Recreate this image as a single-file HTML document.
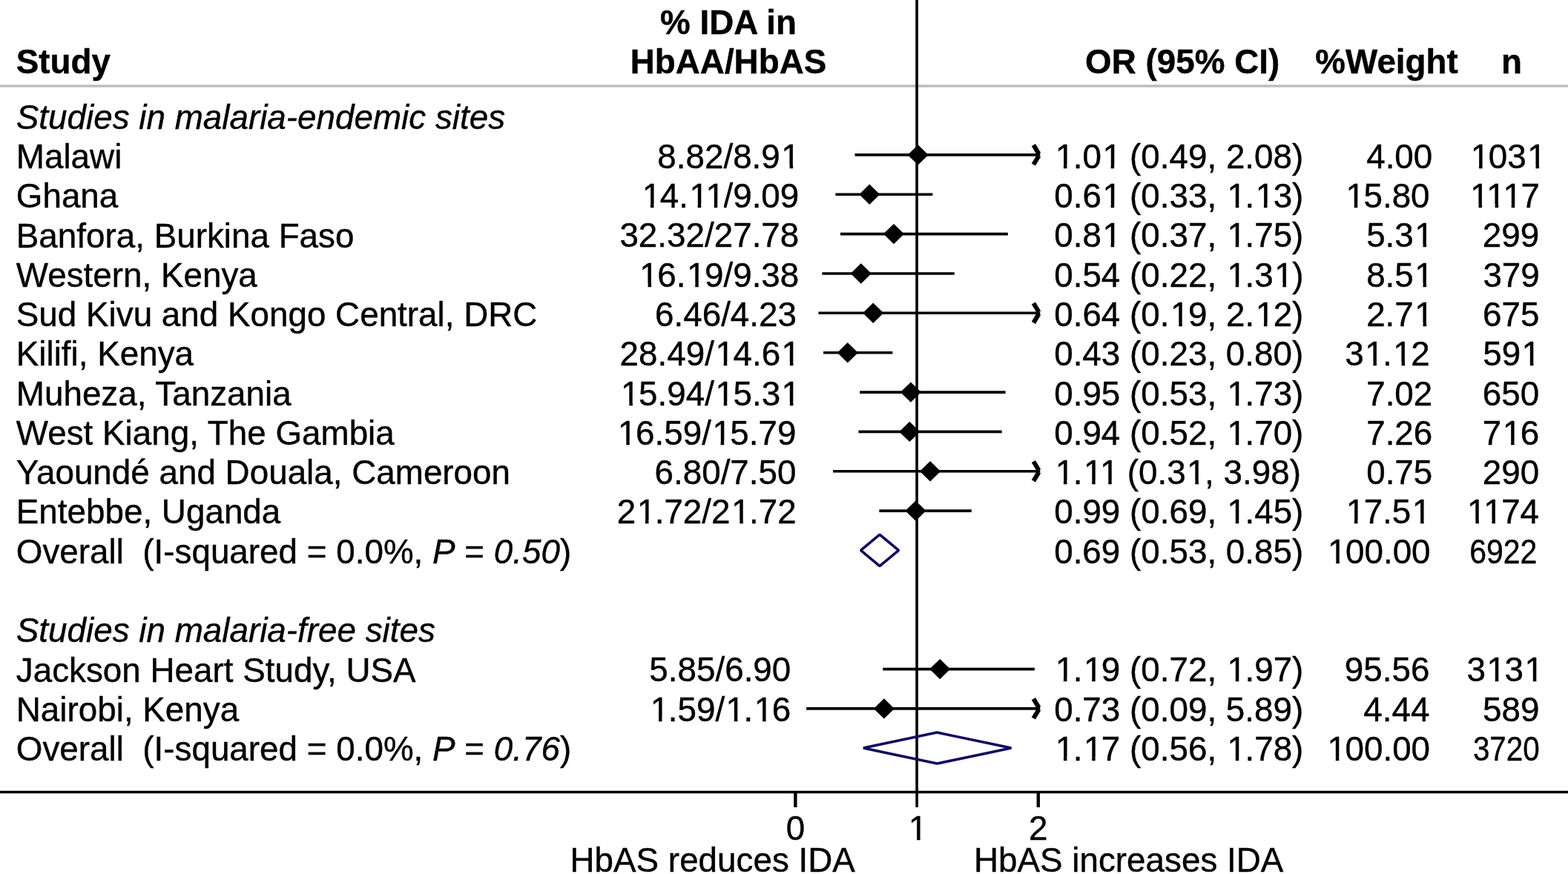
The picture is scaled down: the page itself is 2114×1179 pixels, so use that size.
<!DOCTYPE html>
<html><head><meta charset="utf-8"><title>Forest plot</title>
<style>
html,body{margin:0;padding:0;background:#fff;}
body{width:2114px;height:1179px;overflow:hidden;}
svg{display:block;}
text{font-family:"Liberation Sans",Arial,sans-serif;font-size:45.8px;fill:#000;stroke:#000;stroke-width:0.4px;}
text.b{font-weight:bold;}
text.i,tspan.it{font-style:italic;}
</style></head><body>
<svg width="2114" height="1179" viewBox="0 0 2114 1179">
<rect width="2114" height="1179" fill="#fff"/>
<line x1="0" y1="116" x2="2114" y2="116" stroke="#bdbdbd" stroke-width="3.3"/>
<line x1="1236.1" y1="0" x2="1236.1" y2="1089" stroke="#000" stroke-width="3.6"/>
<line x1="1152.6" y1="208.9" x2="1402.3" y2="208.9" stroke="#000" stroke-width="3.6"/>
<path d="M1393.4 195.6 L1400.6 207.6 M1400.6 210.0 L1393.4 222.0" stroke="#000" stroke-width="6" fill="none"/>
<path d="M1223.7 208.9 L1237.7 195.2 L1251.7 208.9 L1237.7 222.6 Z" fill="#000"/>
<line x1="1126.4" y1="262.3" x2="1257.4" y2="262.3" stroke="#000" stroke-width="3.6"/>
<path d="M1158.3 262.3 L1172.3 248.6 L1186.3 262.3 L1172.3 276.0 Z" fill="#000"/>
<line x1="1133.0" y1="315.6" x2="1358.9" y2="315.6" stroke="#000" stroke-width="3.6"/>
<path d="M1191.0 315.6 L1205.0 301.9 L1219.0 315.6 L1205.0 329.3 Z" fill="#000"/>
<line x1="1108.4" y1="369.0" x2="1286.8" y2="369.0" stroke="#000" stroke-width="3.6"/>
<path d="M1146.8 369.0 L1160.8 355.3 L1174.8 369.0 L1160.8 382.7 Z" fill="#000"/>
<line x1="1103.5" y1="422.3" x2="1402.3" y2="422.3" stroke="#000" stroke-width="3.6"/>
<path d="M1393.4 409.0 L1400.6 421.0 M1400.6 423.4 L1393.4 435.4" stroke="#000" stroke-width="6" fill="none"/>
<path d="M1163.2 422.3 L1177.2 408.6 L1191.2 422.3 L1177.2 436.0 Z" fill="#000"/>
<line x1="1110.1" y1="475.7" x2="1203.4" y2="475.7" stroke="#000" stroke-width="3.6"/>
<path d="M1128.8 475.7 L1142.8 462.0 L1156.8 475.7 L1142.8 489.4 Z" fill="#000"/>
<line x1="1159.2" y1="529.1" x2="1355.6" y2="529.1" stroke="#000" stroke-width="3.6"/>
<path d="M1213.9 529.1 L1227.9 515.4 L1241.9 529.1 L1227.9 542.8 Z" fill="#000"/>
<line x1="1157.5" y1="582.4" x2="1350.7" y2="582.4" stroke="#000" stroke-width="3.6"/>
<path d="M1212.3 582.4 L1226.3 568.7 L1240.3 582.4 L1226.3 596.1 Z" fill="#000"/>
<line x1="1123.1" y1="635.8" x2="1402.3" y2="635.8" stroke="#000" stroke-width="3.6"/>
<path d="M1393.4 622.5 L1400.6 634.5 M1400.6 636.9 L1393.4 648.9" stroke="#000" stroke-width="6" fill="none"/>
<path d="M1240.1 635.8 L1254.1 622.1 L1268.1 635.8 L1254.1 649.5 Z" fill="#000"/>
<line x1="1185.4" y1="689.1" x2="1309.8" y2="689.1" stroke="#000" stroke-width="3.6"/>
<path d="M1220.5 689.1 L1234.5 675.4 L1248.5 689.1 L1234.5 702.8 Z" fill="#000"/>
<line x1="1190.3" y1="902.6" x2="1394.9" y2="902.6" stroke="#000" stroke-width="3.6"/>
<path d="M1253.2 902.6 L1267.2 888.9 L1281.2 902.6 L1267.2 916.3 Z" fill="#000"/>
<line x1="1087.1" y1="955.9" x2="1402.3" y2="955.9" stroke="#000" stroke-width="3.6"/>
<path d="M1393.4 942.6 L1400.6 954.6 M1400.6 957.0 L1393.4 969.0" stroke="#000" stroke-width="6" fill="none"/>
<path d="M1177.9 955.9 L1191.9 942.2 L1205.9 955.9 L1191.9 969.6 Z" fill="#000"/>
<path d="M1160.5 742.40 L1186.0 721.20 L1211.6 742.40 L1186.0 763.60 Z" fill="none" stroke="#100a5e" stroke-width="3.6" stroke-linejoin="bevel"/>
<path d="M1164.0 1009.10 L1263.4 988.10 L1363.4 1009.10 L1263.4 1030.10 Z" fill="none" stroke="#100a5e" stroke-width="3.6" stroke-linejoin="bevel"/>
<line x1="0" y1="1068.5" x2="2114" y2="1068.5" stroke="#000" stroke-width="3.6"/>
<line x1="1072.4" y1="1068.5" x2="1072.4" y2="1089" stroke="#000" stroke-width="4.4"/>
<line x1="1399.8" y1="1068.5" x2="1399.8" y2="1089" stroke="#000" stroke-width="4.4"/>
<text x="21.8" y="99.2" class="b">Study</text>
<text x="982" y="46.2" class="b" text-anchor="middle">% IDA in</text>
<text x="982" y="98.9" class="b" text-anchor="middle">HbAA/HbAS</text>
<text x="1725.2" y="99" class="b" text-anchor="end">OR (95% CI)</text>
<text x="1965.8" y="99" class="b" text-anchor="end">%Weight</text>
<text x="2052.1" y="99" class="b" text-anchor="end">n</text>
<text x="21.8" y="173.6" class="i">Studies in malaria-endemic sites</text>
<text x="21.8" y="866.3" class="i">Studies in malaria-free sites</text>
<text x="21.8" y="226.9">Malawi</text>
<text x="1078.80" y="226.9" text-anchor="end" transform="matrix(1 0 0 1.02 0 -4.54)" dx="0 0 0 0 0 0 0 0 1.5">8.82/8.91</text>
<text x="1421.2" y="226.9" transform="matrix(1 0 0 1.02 0 -4.54)" dx="1.5 -1.5 0 1.5 -1.5">1.01 (0.49, 2.08)</text>
<text x="1931.30" y="226.9" text-anchor="end" transform="matrix(1 0 0 1.02 0 -4.54)">4.00</text>
<text x="2083.20" y="226.9" text-anchor="end" transform="matrix(1 0 0 1.02 0 -4.54)" dx="1.5 -1.5 0 1.5">1031</text>
<text x="21.8" y="280.2">Ghana</text>
<text x="1075.80" y="280.2" text-anchor="end" transform="matrix(1 0 0 1.02 0 -5.60)" dx="1.5 -1.5 0 1.5 0 -1.5">14.11/9.09</text>
<text x="1421.2" y="280.2" transform="matrix(1 0 0 1.02 0 -5.60)" dx="0 0 0 1.5 -1.5 0 0 0 0 0 0 0 1.5 -1.5 1.5 -1.5">0.61 (0.33, 1.13)</text>
<text x="1926.10" y="280.2" text-anchor="end" transform="matrix(1 0 0 1.02 0 -5.60)" dx="1.5 -1.5">15.80</text>
<text x="2074.40" y="280.2" text-anchor="end" transform="matrix(1 0 0 1.02 0 -5.60)" dx="1.5 0 0 -1.5">1117</text>
<text x="21.8" y="333.5">Banfora, Burkina Faso</text>
<text x="1077.30" y="333.5" text-anchor="end" transform="matrix(1 0 0 1.02 0 -6.67)">32.32/27.78</text>
<text x="1421.2" y="333.5" transform="matrix(1 0 0 1.02 0 -6.67)" dx="0 0 0 1.5 -1.5 0 0 0 0 0 0 0 1.5 -1.5">0.81 (0.37, 1.75)</text>
<text x="1932.80" y="333.5" text-anchor="end" transform="matrix(1 0 0 1.02 0 -6.67)" dx="0 0 0 1.5">5.31</text>
<text x="2075.10" y="333.5" text-anchor="end" transform="matrix(1 0 0 1.02 0 -6.67)">299</text>
<text x="21.8" y="386.7">Western, Kenya</text>
<text x="1075.80" y="386.7" text-anchor="end" transform="matrix(1 0 0 1.02 0 -7.73)" dx="1.5 -1.5 0 1.5 -1.5">16.19/9.38</text>
<text x="1421.2" y="386.7" transform="matrix(1 0 0 1.02 0 -7.73)" dx="0 0 0 0 0 0 0 0 0 0 0 0 1.5 -1.5 0 1.5 -1.5">0.54 (0.22, 1.31)</text>
<text x="1932.80" y="386.7" text-anchor="end" transform="matrix(1 0 0 1.02 0 -7.73)" dx="0 0 0 1.5">8.51</text>
<text x="2075.80" y="386.7" text-anchor="end" transform="matrix(1 0 0 1.02 0 -7.73)">379</text>
<text x="21.8" y="440.0">Sud Kivu and Kongo Central, DRC</text>
<text x="1074.00" y="440.0" text-anchor="end" transform="matrix(1 0 0 1.02 0 -8.80)">6.46/4.23</text>
<text x="1421.2" y="440.0" transform="matrix(1 0 0 1.02 0 -8.80)" dx="0 0 0 0 0 0 0 0 1.5 -1.5 0 0 0 0 1.5 -1.5">0.64 (0.19, 2.12)</text>
<text x="1932.80" y="440.0" text-anchor="end" transform="matrix(1 0 0 1.02 0 -8.80)" dx="0 0 0 1.5">2.71</text>
<text x="2075.40" y="440.0" text-anchor="end" transform="matrix(1 0 0 1.02 0 -8.80)">675</text>
<text x="21.8" y="493.3">Kilifi, Kenya</text>
<text x="1079.10" y="493.3" text-anchor="end" transform="matrix(1 0 0 1.02 0 -9.87)" dx="0 0 0 0 0 0 1.5 -1.5 0 0 1.5">28.49/14.61</text>
<text x="1421.2" y="493.3" transform="matrix(1 0 0 1.02 0 -9.87)">0.43 (0.23, 0.80)</text>
<text x="1927.80" y="493.3" text-anchor="end" transform="matrix(1 0 0 1.02 0 -9.87)" dx="0 1.5 -1.5 1.5 -1.5">31.12</text>
<text x="2077.10" y="493.3" text-anchor="end" transform="matrix(1 0 0 1.02 0 -9.87)" dx="0 0 1.5">591</text>
<text x="21.8" y="546.6">Muheza, Tanzania</text>
<text x="1077.60" y="546.6" text-anchor="end" transform="matrix(1 0 0 1.02 0 -10.93)" dx="1.5 -1.5 0 0 0 0 1.5 -1.5 0 0 1.5">15.94/15.31</text>
<text x="1421.2" y="546.6" transform="matrix(1 0 0 1.02 0 -10.93)" dx="0 0 0 0 0 0 0 0 0 0 0 0 1.5 -1.5">0.95 (0.53, 1.73)</text>
<text x="1931.30" y="546.6" text-anchor="end" transform="matrix(1 0 0 1.02 0 -10.93)">7.02</text>
<text x="2075.20" y="546.6" text-anchor="end" transform="matrix(1 0 0 1.02 0 -10.93)">650</text>
<text x="21.8" y="599.9">West Kiang, The Gambia</text>
<text x="1072.00" y="599.9" text-anchor="end" transform="matrix(1 0 0 1.02 0 -12.00)" dx="1.5 -1.5 0 0 0 0 1.5 -1.5">16.59/15.79</text>
<text x="1421.2" y="599.9" transform="matrix(1 0 0 1.02 0 -12.00)" dx="0 0 0 0 0 0 0 0 0 0 0 0 1.5 -1.5">0.94 (0.52, 1.70)</text>
<text x="1931.30" y="599.9" text-anchor="end" transform="matrix(1 0 0 1.02 0 -12.00)">7.26</text>
<text x="2075.30" y="599.9" text-anchor="end" transform="matrix(1 0 0 1.02 0 -12.00)" dx="0 1.5 -1.5">716</text>
<text x="21.8" y="653.1">Yaoundé and Douala, Cameroon</text>
<text x="1073.50" y="653.1" text-anchor="end" transform="matrix(1 0 0 1.02 0 -13.06)">6.80/7.50</text>
<text x="1421.2" y="653.1" transform="matrix(1 0 0 1.02 0 -13.06)" dx="1.5 -1.5 1.5 0 -1.5 0 0 0 0 1.5 -1.5">1.11 (0.31, 3.98)</text>
<text x="1931.30" y="653.1" text-anchor="end" transform="matrix(1 0 0 1.02 0 -13.06)">0.75</text>
<text x="2075.10" y="653.1" text-anchor="end" transform="matrix(1 0 0 1.02 0 -13.06)">290</text>
<text x="21.8" y="706.4">Entebbe, Uganda</text>
<text x="1073.70" y="706.4" text-anchor="end" transform="matrix(1 0 0 1.02 0 -14.13)" dx="0 1.5 -1.5 0 0 0 0 1.5 -1.5">21.72/21.72</text>
<text x="1421.2" y="706.4" transform="matrix(1 0 0 1.02 0 -14.13)" dx="0 0 0 0 0 0 0 0 0 0 0 0 1.5 -1.5">0.99 (0.69, 1.45)</text>
<text x="1927.80" y="706.4" text-anchor="end" transform="matrix(1 0 0 1.02 0 -14.13)" dx="1.5 -1.5 0 0 1.5">17.51</text>
<text x="2073.60" y="706.4" text-anchor="end" transform="matrix(1 0 0 1.02 0 -14.13)" dx="1.5 0 -1.5">1174</text>
<text x="21.8" y="919.5">Jackson Heart Study, USA</text>
<text x="1066.30" y="919.5" text-anchor="end" transform="matrix(1 0 0 1.02 0 -18.39)">5.85/6.90</text>
<text x="1421.2" y="919.5" transform="matrix(1 0 0 1.02 0 -18.39)" dx="1.5 -1.5 1.5 -1.5 0 0 0 0 0 0 0 0 1.5 -1.5">1.19 (0.72, 1.97)</text>
<text x="1927.40" y="919.5" text-anchor="end" transform="matrix(1 0 0 1.02 0 -18.39)">95.56</text>
<text x="2081.00" y="919.5" text-anchor="end" transform="matrix(1 0 0 1.02 0 -18.39)" dx="0 1.5 -1.5 1.5">3131</text>
<text x="21.8" y="972.8">Nairobi, Kenya</text>
<text x="1064.80" y="972.8" text-anchor="end" transform="matrix(1 0 0 1.02 0 -19.46)" dx="1.5 -1.5 0 0 0 1.5 -1.5 1.5 -1.5">1.59/1.16</text>
<text x="1421.2" y="972.8" transform="matrix(1 0 0 1.02 0 -19.46)">0.73 (0.09, 5.89)</text>
<text x="1927.40" y="972.8" text-anchor="end" transform="matrix(1 0 0 1.02 0 -19.46)">4.44</text>
<text x="2075.50" y="972.8" text-anchor="end" transform="matrix(1 0 0 1.02 0 -19.46)">589</text>
<text x="21.8" y="759.7">Overall&#160; (I-squared = 0.0%, <tspan class="it">P</tspan> = <tspan class="it">0.50</tspan>)</text>
<text x="1421.2" y="759.7" transform="matrix(1 0 0 1.02 0 -15.19)">0.69 (0.53, 0.85)</text>
<text x="1927.10" y="759.7" text-anchor="end" transform="matrix(1 0 0 1.02 0 -15.19)" dx="1.5 -1.5">100.00</text>
<text transform="matrix(1 0 0 1.02 0 -15.19)" x="1981.2" y="759.7" textLength="91.2" lengthAdjust="spacingAndGlyphs">6922</text>
<text x="21.8" y="1026.1">Overall&#160; (I-squared = 0.0%, <tspan class="it">P</tspan> = <tspan class="it">0.76</tspan>)</text>
<text x="1421.2" y="1026.1" transform="matrix(1 0 0 1.02 0 -20.52)" dx="1.5 -1.5 1.5 -1.5 0 0 0 0 0 0 0 0 1.5 -1.5">1.17 (0.56, 1.78)</text>
<text x="1926.60" y="1026.1" text-anchor="end" transform="matrix(1 0 0 1.02 0 -20.52)" dx="1.5 -1.5">100.00</text>
<text transform="matrix(1 0 0 1.02 0 -20.52)" x="1985.9" y="1026.1" textLength="89.8" lengthAdjust="spacingAndGlyphs">3720</text>
<text x="1072.4" y="1132.7" text-anchor="middle">0</text>
<text x="1236.1" y="1132.7" text-anchor="middle" dx="1.5">1</text>
<text x="1399.8" y="1132.7" text-anchor="middle">2</text>
<text x="960.7" y="1176.2" text-anchor="middle">HbAS reduces IDA</text>
<text x="1521.7" y="1176.2" text-anchor="middle">HbAS increases IDA</text>
<g id="m1" fill="#fff"><rect x="1055.00" y="222.00" width="9.59" height="7.00"/><rect x="1069.14" y="222.00" width="8.86" height="7.00"/><rect x="1425.00" y="222.00" width="8.97" height="7.00"/><rect x="1438.51" y="222.00" width="8.49" height="7.00"/><rect x="1488.00" y="222.00" width="9.66" height="7.00"/><rect x="1502.20" y="222.00" width="8.80" height="7.00"/><rect x="1985.00" y="222.00" width="9.05" height="7.00"/><rect x="1998.60" y="222.00" width="9.40" height="7.00"/><rect x="2061.00" y="222.00" width="9.49" height="7.00"/><rect x="2075.04" y="222.00" width="8.96" height="7.00"/><rect x="868.00" y="275.00" width="8.97" height="7.00"/><rect x="881.52" y="275.00" width="8.48" height="7.00"/><rect x="931.00" y="275.00" width="9.66" height="7.00"/><rect x="945.21" y="275.00" width="8.79" height="7.00"/><rect x="953.00" y="275.00" width="9.74" height="7.00"/><rect x="967.28" y="275.00" width="8.72" height="7.00"/><rect x="1488.00" y="275.00" width="9.66" height="7.00"/><rect x="1502.20" y="275.00" width="8.80" height="7.00"/><rect x="1656.00" y="275.00" width="9.75" height="7.00"/><rect x="1670.29" y="275.00" width="8.71" height="7.00"/><rect x="1695.00" y="275.00" width="8.96" height="7.00"/><rect x="1708.50" y="275.00" width="8.50" height="7.00"/><rect x="1816.00" y="275.00" width="9.75" height="7.00"/><rect x="1830.30" y="275.00" width="8.70" height="7.00"/><rect x="1984.00" y="275.00" width="9.56" height="7.00"/><rect x="1998.11" y="275.00" width="8.89" height="7.00"/><rect x="2006.00" y="275.00" width="9.64" height="7.00"/><rect x="2020.18" y="275.00" width="8.82" height="7.00"/><rect x="2028.00" y="275.00" width="9.71" height="7.00"/><rect x="2042.26" y="275.00" width="8.74" height="7.00"/><rect x="1488.00" y="329.00" width="9.66" height="7.00"/><rect x="1502.20" y="329.00" width="8.80" height="7.00"/><rect x="1656.00" y="329.00" width="9.75" height="7.00"/><rect x="1670.29" y="329.00" width="8.71" height="7.00"/><rect x="1909.00" y="329.00" width="9.59" height="7.00"/><rect x="1923.14" y="329.00" width="8.86" height="7.00"/><rect x="864.00" y="382.00" width="9.59" height="7.00"/><rect x="878.13" y="382.00" width="8.87" height="7.00"/><rect x="928.00" y="382.00" width="9.27" height="7.00"/><rect x="941.82" y="382.00" width="9.18" height="7.00"/><rect x="1656.00" y="382.00" width="9.75" height="7.00"/><rect x="1670.29" y="382.00" width="8.71" height="7.00"/><rect x="1720.00" y="382.00" width="9.44" height="7.00"/><rect x="1733.98" y="382.00" width="9.02" height="7.00"/><rect x="1909.00" y="382.00" width="9.59" height="7.00"/><rect x="1923.14" y="382.00" width="8.86" height="7.00"/><rect x="1580.00" y="435.00" width="9.33" height="7.00"/><rect x="1593.88" y="435.00" width="9.12" height="7.00"/><rect x="1695.00" y="435.00" width="8.96" height="7.00"/><rect x="1708.50" y="435.00" width="8.50" height="7.00"/><rect x="1909.00" y="435.00" width="9.59" height="7.00"/><rect x="1923.14" y="435.00" width="8.86" height="7.00"/><rect x="966.00" y="488.00" width="9.72" height="7.00"/><rect x="980.27" y="488.00" width="8.73" height="7.00"/><rect x="1056.00" y="488.00" width="8.89" height="7.00"/><rect x="1069.44" y="488.00" width="8.56" height="7.00"/><rect x="1842.00" y="488.00" width="9.40" height="7.00"/><rect x="1855.95" y="488.00" width="9.05" height="7.00"/><rect x="1880.00" y="488.00" width="9.61" height="7.00"/><rect x="1894.16" y="488.00" width="8.84" height="7.00"/><rect x="2054.00" y="488.00" width="8.89" height="7.00"/><rect x="2067.44" y="488.00" width="8.56" height="7.00"/><rect x="839.00" y="542.00" width="9.35" height="7.00"/><rect x="852.89" y="542.00" width="9.11" height="7.00"/><rect x="966.00" y="542.00" width="9.72" height="7.00"/><rect x="980.27" y="542.00" width="8.73" height="7.00"/><rect x="1056.00" y="542.00" width="8.89" height="7.00"/><rect x="1069.44" y="542.00" width="8.56" height="7.00"/><rect x="1656.00" y="542.00" width="9.75" height="7.00"/><rect x="1670.29" y="542.00" width="8.71" height="7.00"/><rect x="835.00" y="595.00" width="9.28" height="7.00"/><rect x="848.82" y="595.00" width="9.18" height="7.00"/><rect x="962.00" y="595.00" width="9.65" height="7.00"/><rect x="976.20" y="595.00" width="8.80" height="7.00"/><rect x="1656.00" y="595.00" width="9.75" height="7.00"/><rect x="1670.29" y="595.00" width="8.71" height="7.00"/><rect x="2028.00" y="595.00" width="9.11" height="7.00"/><rect x="2041.66" y="595.00" width="9.34" height="7.00"/><rect x="1425.00" y="648.00" width="8.97" height="7.00"/><rect x="1438.51" y="648.00" width="8.49" height="7.00"/><rect x="1463.00" y="648.00" width="9.18" height="7.00"/><rect x="1476.72" y="648.00" width="9.28" height="7.00"/><rect x="1485.00" y="648.00" width="9.25" height="7.00"/><rect x="1498.80" y="648.00" width="9.20" height="7.00"/><rect x="1602.00" y="648.00" width="9.40" height="7.00"/><rect x="1615.95" y="648.00" width="9.05" height="7.00"/><rect x="861.00" y="701.00" width="8.96" height="7.00"/><rect x="874.50" y="701.00" width="8.50" height="7.00"/><rect x="988.00" y="701.00" width="9.33" height="7.00"/><rect x="1001.88" y="701.00" width="9.12" height="7.00"/><rect x="1656.00" y="701.00" width="9.75" height="7.00"/><rect x="1670.29" y="701.00" width="8.71" height="7.00"/><rect x="1817.00" y="701.00" width="8.92" height="7.00"/><rect x="1830.47" y="701.00" width="8.53" height="7.00"/><rect x="1906.00" y="701.00" width="9.09" height="7.00"/><rect x="1919.64" y="701.00" width="9.36" height="7.00"/><rect x="1980.00" y="701.00" width="9.37" height="7.00"/><rect x="1993.92" y="701.00" width="9.08" height="7.00"/><rect x="2002.00" y="701.00" width="9.45" height="7.00"/><rect x="2016.00" y="701.00" width="9.00" height="7.00"/><rect x="1425.00" y="915.00" width="8.97" height="7.00"/><rect x="1438.51" y="915.00" width="8.49" height="7.00"/><rect x="1463.00" y="915.00" width="9.18" height="7.00"/><rect x="1476.72" y="915.00" width="9.28" height="7.00"/><rect x="1656.00" y="915.00" width="9.75" height="7.00"/><rect x="1670.29" y="915.00" width="8.71" height="7.00"/><rect x="2007.00" y="915.00" width="8.83" height="7.00"/><rect x="2020.38" y="915.00" width="8.62" height="7.00"/><rect x="2058.00" y="915.00" width="8.79" height="7.00"/><rect x="2071.34" y="915.00" width="8.66" height="7.00"/><rect x="879.00" y="968.00" width="9.00" height="7.00"/><rect x="892.55" y="968.00" width="8.45" height="7.00"/><rect x="981.00" y="968.00" width="8.90" height="7.00"/><rect x="994.45" y="968.00" width="8.55" height="7.00"/><rect x="1019.00" y="968.00" width="9.11" height="7.00"/><rect x="1032.66" y="968.00" width="9.34" height="7.00"/><rect x="1792.00" y="755.00" width="9.29" height="7.00"/><rect x="1805.84" y="755.00" width="9.16" height="7.00"/><rect x="1425.00" y="1021.00" width="8.97" height="7.00"/><rect x="1438.51" y="1021.00" width="8.49" height="7.00"/><rect x="1463.00" y="1021.00" width="9.18" height="7.00"/><rect x="1476.72" y="1021.00" width="9.28" height="7.00"/><rect x="1656.00" y="1021.00" width="9.75" height="7.00"/><rect x="1670.29" y="1021.00" width="8.71" height="7.00"/><rect x="1792.00" y="1021.00" width="8.79" height="7.00"/><rect x="1805.34" y="1021.00" width="8.66" height="7.00"/><rect x="1227.00" y="1128.00" width="9.12" height="7.00"/><rect x="1240.67" y="1128.00" width="9.33" height="7.00"/></g>
</svg>
</body></html>
